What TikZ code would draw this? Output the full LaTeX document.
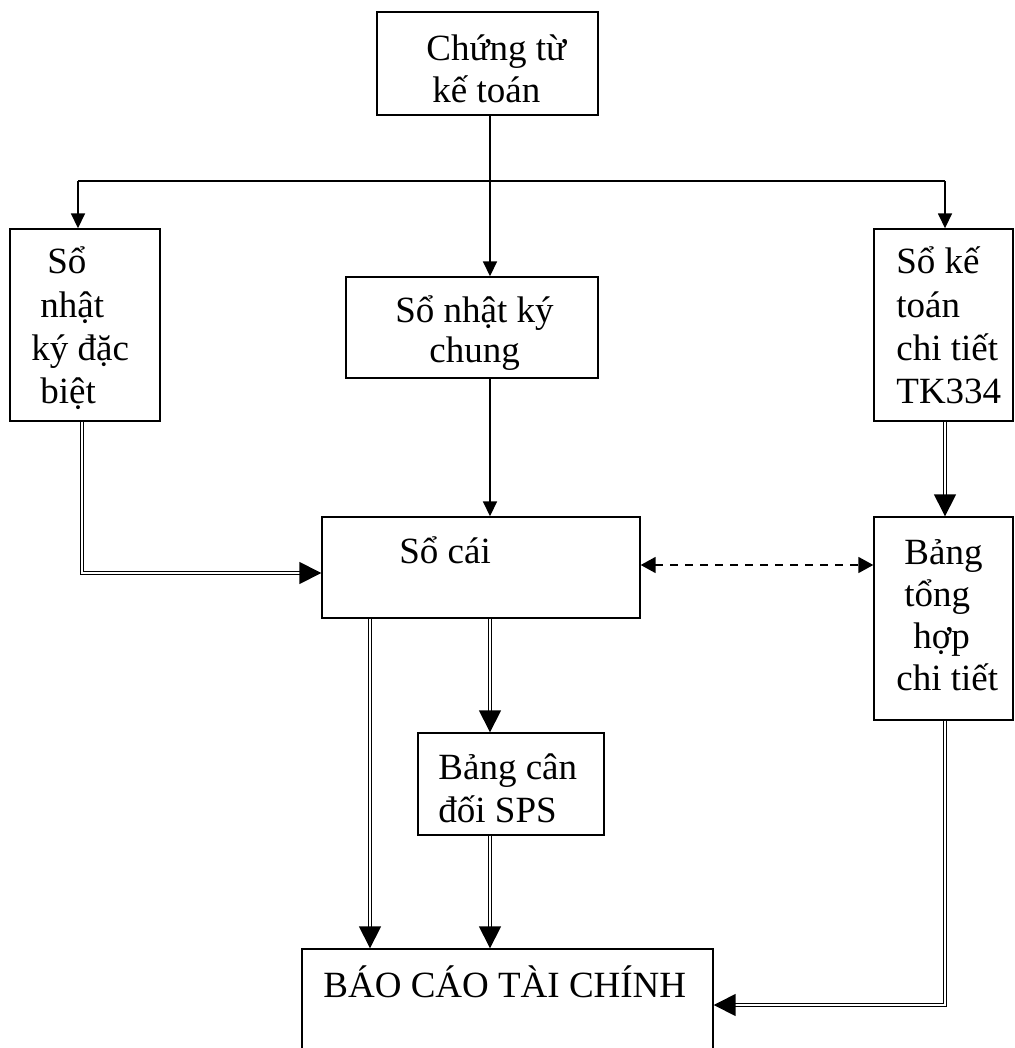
\documentclass[tikz,border=0pt]{standalone}
\usepackage{fontspec}
\setmainfont{Liberation Serif}
\usetikzlibrary{arrows.meta,fit,calc}
\begin{document}
\begin{tikzpicture}[x=0.5pt,y=-0.5pt,
  box/.style={draw, line width=0.7pt, inner sep=0pt},
  txt/.style={anchor=base west, inner sep=0pt, font=\fontsize{18.5pt}{21.5pt}\selectfont},
  con/.style={line width=0.85pt, -{Triangle[length=7.5pt,width=7pt]}},
  dbl/.style={double, line width=0.75pt, double distance=0.75pt, -{Triangle[length=11pt,width=11pt]}},
  dsh/.style={line width=0.85pt, dash pattern=on 4pt off 3.5pt, {Triangle[length=7.5pt,width=8pt]}-{Triangle[length=7.5pt,width=8pt]}}
]
\clip (0,0) rectangle (1015,1048);
\fill[white] (0,0) rectangle (1015,1048);

% boxes
\node[box, fit={(377,12) (598,115)}] (top) {};
\node[box, fit={(10,229) (160,421)}] (lft) {};
\node[box, fit={(346,277) (598,378)}] (mid) {};
\node[box, fit={(874,229) (1013,421)}] (rgt) {};
\node[box, fit={(322,517) (640,618)}] (socai) {};
\node[box, fit={(874,517) (1013,720)}] (th) {};
\node[box, fit={(418,733) (604,835)}] (sps) {};
\node[box, fit={(302,949) (713,1070)}] (bctc) {};

% texts
\node[txt] (t1) at (426,61) {Chứng từ};
\node[txt] (t2) at (432,103) {kế toán};
\node[txt] (l1) at (47,273) {Sổ};
\node[txt] (l2) at (40,317) {nhật};
\node[txt] (l3) at (31,360) {ký đặc};
\node[txt] (l4) at (40,403) {biệt};
\node[txt] (m1) at (395,322) {Sổ nhật ký};
\node[txt] (m2) at (429,362) {chung};
\node[txt] (r1) at (896,273) {Sổ kế};
\node[txt] (r2) at (896,317) {toán};
\node[txt] (r3) at (896,360) {chi tiết};
\node[txt] (r4) at (896,403) {TK334};
\node[txt] (s1) at (399,563) {Sổ cái};
\node[txt] (h1) at (904,564) {Bảng};
\node[txt] (h2) at (904,606) {tổng};
\node[txt] (h3) at (913,648) {hợp};
\node[txt] (h4) at (896,690) {chi tiết};
\node[txt] (p1) at (438,779) {Bảng cân};
\node[txt] (p2) at (438,822) {đối SPS};
\node[txt] (b1) at (323,997) {BÁO CÁO TÀI CHÍNH};

% helper coordinates
\coordinate (xa) at (78,181);
\coordinate (xb) at (490,181);
\coordinate (xc) at (945,181);
\coordinate (ya) at (82,573);
\coordinate (yd) at (0,565);
\coordinate (xs) at (370,0);
\coordinate (yb) at (945,1005);

% connectors
\draw[con] (top.south -| xb) -- (mid.north -| xb);
\draw[line width=0.85pt] (xa) -- (xc);
\draw[con] (xa) -- (lft.north -| xa);
\draw[con] (xc) -- (rgt.north -| xc);
\draw[con] (mid.south -| xb) -- (socai.north -| xb);
\draw[dbl] (lft.south -| ya) -- (ya) -- (socai.west |- ya);
\draw[dbl] (rgt.south -| xc) -- (th.north -| xc);
\draw[dsh] (socai.east |- yd) -- (th.west |- yd);
\draw[dbl] (socai.south -| xs) -- (bctc.north -| xs);
\draw[dbl] (socai.south -| xb) -- (sps.north -| xb);
\draw[dbl] (sps.south -| xb) -- (bctc.north -| xb);
\draw[dbl] (th.south -| yb) -- (yb) -- (bctc.east |- yb);
\end{tikzpicture}
\end{document}
